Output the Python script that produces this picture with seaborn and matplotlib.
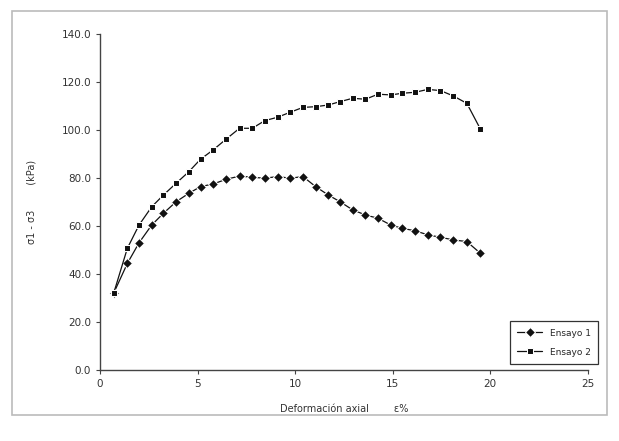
import matplotlib
matplotlib.use("Agg")
import matplotlib.pyplot as plt
import matplotlib.ticker as mticker
from matplotlib.patches import Rectangle
import seaborn as sns
import pandas as pd

# Datos (deformacion axial %, esfuerzo desviador kPa)
deform = [0.7, 1.4, 2.0, 2.65, 3.25, 3.9, 4.55, 5.15, 5.8, 6.45, 7.15, 7.8, 8.45,
          9.1, 9.75, 10.4, 11.05, 11.7, 12.3, 12.95, 13.6, 14.25, 14.9, 15.5,
          16.15, 16.8, 17.45, 18.1, 18.8, 19.5]
ensayo_1 = [32.0, 44.4, 53.0, 60.4, 65.3, 70.1, 73.6, 76.4, 77.5, 79.4, 80.8, 80.3,
            79.9, 80.6, 79.9, 80.6, 76.4, 72.9, 70.1, 66.7, 64.6, 63.2, 60.4, 59.0,
            58.0, 56.3, 55.3, 54.2, 53.5, 48.6]
ensayo_2 = [32.0, 50.7, 60.4, 68.0, 72.9, 77.8, 82.6, 87.8, 91.7, 96.1, 100.7, 100.7,
            103.9, 105.3, 107.4, 109.4, 109.7, 110.4, 111.8, 113.2, 112.8, 114.9,
            114.6, 115.3, 115.7, 116.9, 116.4, 114.2, 111.1, 100.3]
series = ["Ensayo 1", "Ensayo 2"]

df = pd.DataFrame({
    "Deformacion": deform * 2,
    "Esfuerzo": ensayo_1 + ensayo_2,
    "Serie": [series[0]] * len(deform) + [series[1]] * len(deform),
})

sns.set_style("white")
plt.rcParams["font.family"] = ["DejaVu Sans"]

fig = plt.figure(figsize=(6.19, 4.41), dpi=100)
ax = fig.add_axes([0.1616, 0.161, 0.788, 0.762])

sns.lineplot(
    data=df, x="Deformacion", y="Esfuerzo", hue="Serie", style="Serie",
    palette={series[0]: "#111111", series[1]: "#111111"},
    markers={series[0]: "D", series[1]: "s"},
    markersize=5, dashes=False, linewidth=0.9, ax=ax,
)

ax.set_xlim(0, 25)
ax.set_ylim(0, 140)
ax.xaxis.set_major_locator(mticker.MultipleLocator(5))
ax.yaxis.set_major_locator(mticker.MultipleLocator(20))
ax.yaxis.set_major_formatter(mticker.FormatStrFormatter("%.1f"))
ax.tick_params(labelsize=7.5, length=3, direction="out", left=True, bottom=True,
               color="#444444", labelcolor="#333333")

for s in ["top", "right"]:
    ax.spines[s].set_visible(False)
for s in ["left", "bottom"]:
    ax.spines[s].set_color("#444444")
    ax.spines[s].set_linewidth(1.0)

ax.set_xlabel("Deformación axial        ε%", fontsize=7, color="#333333", labelpad=11)
ax.set_ylabel("σ1 - σ3        (kPa)", fontsize=7, color="#333333", labelpad=18)

leg = ax.legend(loc="lower right", bbox_to_anchor=(1.03, 0.005), fontsize=6.5,
                frameon=True, fancybox=False, framealpha=1, edgecolor="#333333",
                handlelength=2.8, borderpad=0.8, labelspacing=1.1)
leg.get_frame().set_linewidth(0.9)
leg.set_zorder(5)

# Borde del area del grafico
fig.patches.append(Rectangle((0.02, 0.06), 0.96, 0.915, transform=fig.transFigure,
                             fill=False, edgecolor="#bbbbbb", linewidth=1.2))

fig.savefig("out.png", dpi=100)
